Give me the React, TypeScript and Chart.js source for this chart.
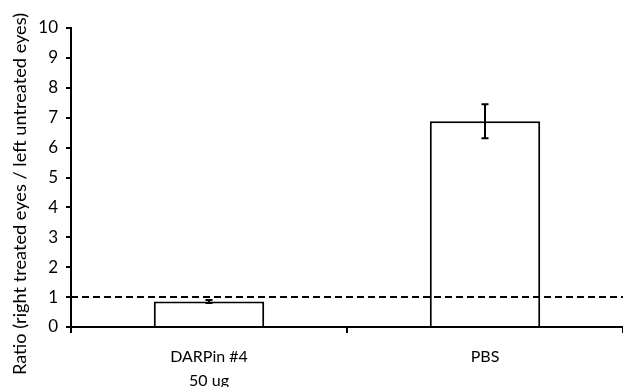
import React, { useEffect, useRef } from "react";
import { Chart, registerables } from "chart.js";

Chart.register(...registerables);

const categories: (string | string[])[] = [["DARPin #4", "50 ug"], "PBS"];
const values = [0.85, 6.88];
const errors = [0.05, 0.57];
const referenceLevel = 1.0;
const yTicks = [0, 1, 2, 3, 4, 5, 6, 7, 8, 9, 10];
const yTitle = "Ratio (right treated eyes / left untreated eyes)";

const FONT = "Lato, 'Open Sans', sans-serif";

const extrasPlugin = {
  id: "extras",
  afterDatasetsDraw(chart: any) {
    const ctx = chart.ctx;
    const x = chart.scales.x;
    const y = chart.scales.y;
    const area = chart.chartArea;
    ctx.save();
    ctx.strokeStyle = "#000";
    ctx.lineWidth = 2;
    values.forEach((v, i) => {
      const cx = x.getPixelForValue(i);
      const top = y.getPixelForValue(v + errors[i]);
      const bot = y.getPixelForValue(v - errors[i]);
      ctx.beginPath();
      ctx.moveTo(cx, top);
      ctx.lineTo(cx, bot);
      ctx.moveTo(cx - 3.5, top);
      ctx.lineTo(cx + 3.5, top);
      ctx.moveTo(cx - 3.5, bot);
      ctx.lineTo(cx + 3.5, bot);
      ctx.stroke();
    });
    const ry = y.getPixelForValue(referenceLevel);
    ctx.setLineDash([7, 4]);
    ctx.beginPath();
    ctx.moveTo(area.left, ry);
    ctx.lineTo(area.right, ry);
    ctx.stroke();
    ctx.restore();
    // rotated y title
    ctx.save();
    ctx.translate(20, 194);
    ctx.rotate(-Math.PI / 2);
    ctx.fillStyle = "#000";
    ctx.font = `18.2px ${FONT}`;
    ctx.textAlign = "center";
    ctx.textBaseline = "middle";
    ctx.fillText(yTitle, 0, 0);
    ctx.restore();
  },
};

export default function App() {
  const ref = useRef<HTMLCanvasElement | null>(null);
  useEffect(() => {
    if (!ref.current) return;
    const chart = new Chart(ref.current, {
      type: "bar",
      data: {
        labels: categories,
        datasets: [
          {
            data: values,
            backgroundColor: "#ffffff",
            borderColor: "#000000",
            borderWidth: 2,
            borderSkipped: "bottom",
            barPercentage: 0.4,
            categoryPercentage: 1,
          },
        ],
      },
      options: {
        animation: false,
        responsive: false,
        maintainAspectRatio: false,
        layout: { padding: { top: 28, right: 0, left: 0, bottom: 0 } },
        plugins: { legend: { display: false }, tooltip: { enabled: false } },
        scales: {
          x: {
            offset: true,
            afterFit: (axis: any) => {
              axis.height = 60;
            },
            grid: {
              offset: true,
              drawOnChartArea: false,
              drawTicks: true,
              tickLength: 6,
              color: "#000",
              lineWidth: 2,
            },
            border: { display: true, color: "#000", width: 2 },
            ticks: {
              color: "#000",
              font: { family: FONT, size: 16, lineHeight: 1.55 },
              padding: 11,
              maxRotation: 0,
            },
          },
          y: {
            min: 0,
            max: 10,
            afterFit: (axis: any) => {
              axis.width = 71;
            },
            afterBuildTicks: (axis: any) => {
              axis.ticks = yTicks.map((v) => ({ value: v }));
            },
            grid: {
              drawOnChartArea: false,
              drawTicks: true,
              tickLength: 5,
              color: "#000",
              lineWidth: 2,
            },
            border: { display: true, color: "#000", width: 2 },
            ticks: {
              color: "#000",
              font: { family: FONT, size: 17 },
              padding: 8,
            },
          },
        },
      },
      plugins: [extrasPlugin],
    });
    return () => chart.destroy();
  }, []);
  return (
    <div style={{ position: "fixed", left: 0, top: 0, width: 623, height: 387, background: "#fff" }}>
      <canvas ref={ref} width={623} height={387} style={{ width: 623, height: 387 }} />
    </div>
  );
}
